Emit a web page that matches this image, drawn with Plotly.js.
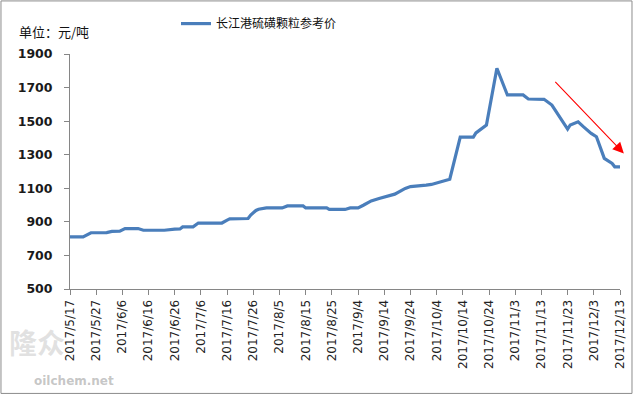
<!DOCTYPE html>
<html>
<head>
<meta charset="utf-8">
<script src="https://cdn.plot.ly/plotly-3.0.1.min.js"></script>
<style>
html,body{margin:0;padding:0;background:#fff;}
#chart{width:640px;height:395px;}
</style>
</head>
<body>
<div id="chart"></div>
<script>
// Series: 长江港硫磺颗粒参考价 (元/吨)
const dates = [
  '2017-05-17','2017-05-22','2017-05-25','2017-05-31','2017-06-02','2017-06-05','2017-06-07','2017-06-12',
  '2017-06-14','2017-06-22','2017-06-26','2017-06-28','2017-06-29','2017-07-03','2017-07-05','2017-07-14',
  '2017-07-16','2017-07-17','2017-07-24','2017-07-25','2017-07-27','2017-07-28','2017-07-31','2017-08-06',
  '2017-08-08','2017-08-14','2017-08-15','2017-08-23','2017-08-24','2017-08-30','2017-09-01','2017-09-04',
  '2017-09-06','2017-09-09','2017-09-12','2017-09-15','2017-09-18','2017-09-22','2017-09-24','2017-09-30',
  '2017-10-02','2017-10-09','2017-10-13','2017-10-18','2017-10-19','2017-10-23','2017-10-25','2017-10-27',
  '2017-10-31','2017-11-06','2017-11-08','2017-11-14','2017-11-17','2017-11-20','2017-11-23','2017-11-24',
  '2017-11-27','2017-11-29','2017-12-02','2017-12-04','2017-12-06','2017-12-07','2017-12-10','2017-12-11',
  '2017-12-13'
];
const prices = [
  810, 810, 835, 836, 843, 845, 860, 860,
  850, 850, 857, 858, 870, 870, 893, 893,
  910, 918, 920, 940, 968, 975, 983, 983,
  995, 995, 983, 983, 974, 974, 983, 983,
  999, 1025, 1039, 1053, 1065, 1099, 1110, 1119,
  1123, 1154, 1405, 1405, 1430, 1477, 1656, 1815,
  1656, 1656, 1632, 1630, 1596, 1526, 1453, 1477,
  1496, 1467, 1427, 1407, 1328, 1278, 1248, 1228,
  1228
];
const seriesName = '长江港硫磺颗粒参考价';
const unitLabel = '单位：元/吨';
const tickDates = [
  '2017-05-17','2017-05-27','2017-06-06','2017-06-16','2017-06-26','2017-07-06','2017-07-16','2017-07-26',
  '2017-08-05','2017-08-15','2017-08-25','2017-09-04','2017-09-14','2017-09-24','2017-10-04','2017-10-14',
  '2017-10-24','2017-11-03','2017-11-13','2017-11-23','2017-12-03','2017-12-13'
];
const tickLabels = [
  '2017/5/17','2017/5/27','2017/6/6','2017/6/16','2017/6/26','2017/7/6','2017/7/16','2017/7/26',
  '2017/8/5','2017/8/15','2017/8/25','2017/9/4','2017/9/14','2017/9/24','2017/10/4','2017/10/14',
  '2017/10/24','2017/11/3','2017/11/13','2017/11/23','2017/12/3','2017/12/13'
];
const yTicks = [500, 700, 900, 1100, 1300, 1500, 1700, 1900];

const trace = {
  x: dates, y: prices, type: 'scatter', mode: 'lines', name: seriesName,
  line: {color: '#4a7ebb', width: 3.2}, showlegend: true
};

const layout = {
  width: 640, height: 395,
  margin: {l: 70, r: 20, t: 54, b: 106},
  paper_bgcolor: '#ffffff', plot_bgcolor: '#ffffff',
  font: {family: 'DejaVu Sans, sans-serif', color: '#333'},
  showlegend: true,
  legend: {
    orientation: 'h', xref: 'container', yref: 'container',
    x: 0.275, xanchor: 'left', y: 0.977, yanchor: 'top',
    font: {family: 'Noto Sans CJK SC, sans-serif', size: 12, color: '#111'},
    bgcolor: 'rgba(0,0,0,0)'
  },
  xaxis: {
    type: 'date',
    range: [tickDates[0], tickDates[tickDates.length - 1]],
    tickmode: 'array', tickvals: tickDates, ticktext: tickLabels,
    tickangle: -90, ticks: 'outside', ticklen: 5, tickcolor: '#868686',
    showline: true, linecolor: '#868686', linewidth: 1,
    showgrid: false, zeroline: false,
    tickfont: {family: 'DejaVu Sans, sans-serif', size: 12, color: '#222'}
  },
  yaxis: {
    range: [500, 1900], tickmode: 'array', tickvals: yTicks,
    ticks: 'outside', ticklen: 5, tickcolor: '#868686',
    showline: true, linecolor: '#868686', linewidth: 1,
    showgrid: false, zeroline: false, ticklabelstandoff: 9,
    tickfont: {family: 'DejaVu Sans, sans-serif', size: 12.5, color: '#1a1a1a', weight: 'bold'}
  },
  annotations: [
    {xref: 'paper', yref: 'paper', x: -0.096, y: 1.095, xanchor: 'left', yanchor: 'middle',
     text: unitLabel, showarrow: false,
     font: {family: 'Noto Sans CJK SC, sans-serif', size: 13, color: '#111'}},
    {xref: 'paper', yref: 'paper', x: 1.007, y: 0.577, text: '', showarrow: true,
     ax: -70, ay: -73, arrowcolor: '#ff0000', arrowwidth: 1.1, arrowhead: 2, arrowsize: 2, standoff: 0},
    {xref: 'paper', yref: 'paper', x: -0.115, y: -0.225, xanchor: 'left', yanchor: 'middle',
     text: '<b>隆众</b>', showarrow: false,
     font: {family: 'Noto Sans CJK SC, sans-serif', size: 28, color: 'rgba(170,170,170,0.35)'}},
    {xref: 'paper', yref: 'paper', x: -0.07, y: -0.39, xanchor: 'left', yanchor: 'middle',
     text: '<b>oilchem.net</b>', showarrow: false,
     font: {family: 'DejaVu Sans, sans-serif', size: 12, color: 'rgba(150,150,150,0.55)'}}
  ],
  shapes: [
    {type: 'rect', xref: 'paper', yref: 'paper', x0: -0.1255, x1: 1.0218, y0: -0.4444, y1: 1.2258,
     line: {color: '#8c8c8c', width: 1}, fillcolor: 'rgba(0,0,0,0)', layer: 'below'}
  ]
};

Plotly.newPlot('chart', [trace], layout, {displayModeBar: false, staticPlot: true});
</script>
</body>
</html>
